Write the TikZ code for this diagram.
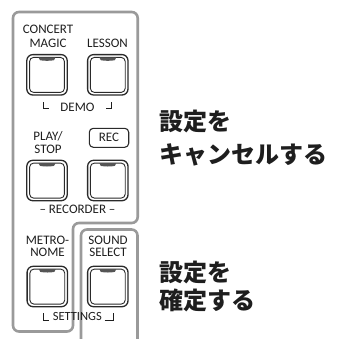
\documentclass[tikz,border=0pt]{standalone}
\usepackage{fontspec}
\newfontfamily\lab{Carlito}
\newfontfamily\cjk{Noto Sans CJK JP}
\definecolor{frame}{HTML}{9A9A9A}
\definecolor{txt}{HTML}{1E1E1E}
\definecolor{btnc}{HTML}{2A2A2A}
\definecolor{lensc}{HTML}{555555}
\tikzset{
  framepath/.style={draw=frame, line width=2.6pt, rounded corners=6pt},
  lab/.style={font=\lab\fontsize{13}{13}\selectfont, text=txt, inner sep=0pt, anchor=base},
  jp/.style={font=\cjk\bfseries\fontsize{24}{24}\selectfont, text=txt, inner sep=0pt, anchor=base west},
  markline/.style={draw=txt, line width=0.7pt},
  btn/.pic={
    \draw[btnc, line width=1.3pt, rounded corners=6pt] (-20.2,-20.2) rectangle (20.2,20.2);
    \draw[btnc, line width=0.9pt, rounded corners=4pt] (-17.4,-17.4) rectangle (17.4,17.6);
    \fill[lensc] (-8.5,-17.4) -- (8.5,-17.4) -- (7,-14.6) .. controls (3,-13.8) and (-3,-13.8) .. (-7,-14.6) -- cycle;
  }
}
\begin{document}
\begin{tikzpicture}[x=1pt,y=-1pt]
\useasboundingbox (0,0) rectangle (342,338);
% grey frames
\draw[framepath] (13,12) -- (137.7,12) -- (137.7,223) -- (73,223) -- (73,331.5) -- (13,331.5) -- cycle;
\draw[framepath] (81,345) -- (81,229.5) -- (137.5,229.5) -- (137.5,345);
% buttons
\pic (b1) at (47,74.8) {btn};
\pic (b2) at (107.8,74.8) {btn};
\pic (b3) at (47,180.5) {btn};
\pic (b4) at (107.8,180.5) {btn};
\pic (b5) at (47.3,286.5) {btn};
\pic (b6) at (107.8,286.5) {btn};
% labels
\node[lab] (concert) at (48,33.5) {CONCERT};
\node[lab] (magic) at (48,47) {MAGIC};
\node[lab] (lesson) at (107.5,47) {LESSON};
\node[lab] (demo) at (77.5,111.7) {DEMO};
\draw[markline] (43.5,102) -- (43.5,108.5) -- (48.5,108.5);
\draw[markline] (106,108.5) -- (111.5,108.5) -- (111.5,102);
\node[lab] (play) at (48,140) {PLAY/};
\node[lab] (stop) at (48,153.5) {STOP};
\node[draw=btnc, line width=1.1pt, rounded corners=4pt, minimum width=39.4pt, minimum height=19pt, inner sep=0pt,
      font=\lab\fontsize{13}{13}\selectfont, text=txt] (rec) at (109,137.8) {REC};
\node[lab] (recorder) at (77.5,213.3) {– RECORDER –};
\node[lab] (metro) at (47.5,244.3) {METRO-};
\node[lab] (nome) at (47.5,256.7) {NOME};
\node[lab] (sound) at (108,244.3) {SOUND};
\node[lab] (select) at (108,256.7) {SELECT};
\node[lab, font=\lab\fontsize{12.5}{12.5}\selectfont] (settings) at (77.3,320.3) {SETTINGS};
\draw[markline] (43.5,313) -- (43.5,320) -- (48.5,320);
\draw[markline] (104.5,320) -- (113,320) -- (113,313);
% japanese
\node[jp] (c1) at (159,130.8) {設定を};
\node[jp] (c2) at (159,163) {キャンセルする};
\node[jp] (k1) at (159,281.5) {設定を};
\node[jp] (k2) at (159,309) {確定する};
\end{tikzpicture}
\end{document}
